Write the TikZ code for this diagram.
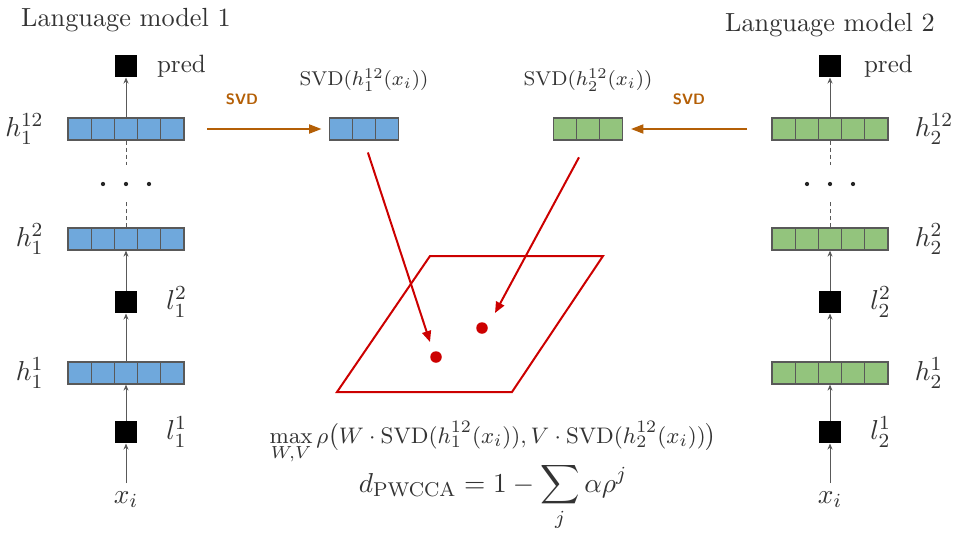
\documentclass[tikz,border=0pt]{standalone}
\usepackage{amsmath}
\usetikzlibrary{arrows.meta,calc,positioning}
\definecolor{lmblue}{HTML}{6FA8DC}
\definecolor{lmgreen}{HTML}{93C47D}
\definecolor{edge}{HTML}{595959}
\definecolor{svdorange}{HTML}{B45F06}
\definecolor{planered}{HTML}{CC0000}

\begin{document}
\begin{tikzpicture}[x=0.4pt,y=-0.4pt,
  every node/.style={text=black!80},
  cells/.style={draw=edge,line width=.5pt,inner sep=0pt,minimum height=8.8pt,
    minimum width=#1*9.28pt,path picture={
      \foreach \k in {1,...,#1}
        \draw[edge,line width=.5pt]
          ($(path picture bounding box.south west)!\k/#1!(path picture bounding box.south east)$) -- ++(0,10pt);
    }},
  sq/.style={fill=black,minimum size=8.8pt,inner sep=0pt},
  up/.style={edge,line width=.4pt,-{Stealth[length=2.4pt,width=2pt]}},
  fwd/.style={edge,line width=.4pt,dash pattern=on 1.6pt off 1.2pt},
  svd/.style={svdorange,line width=.8pt,-{Triangle[length=5pt,width=3.6pt]}},
  proj/.style={planered,line width=.8pt,-{Triangle[length=4.4pt,width=3.6pt]}},
  dot/.style={circle,fill=planered,minimum size=4.6pt,inner sep=0pt},
  title/.style={font=\fontsize{10.5}{12}\selectfont},
  lab/.style={font=\fontsize{11}{13}\selectfont},
  svdlab/.style={text=svdorange,font=\sffamily\bfseries\fontsize{6}{7}\selectfont}]
  \useasboundingbox (0,0) rectangle (960,540);
  % language model 1
  \begin{scope}
    \node[title] (t1) at (126,20) {Language model 1};
    \node[sq] (p1) at (126,66) {};
    \node[cells=5,fill=lmblue] (a12) at (126,129) {};
    \node[cells=5,fill=lmblue] (a2) at (126,239) {};
    \node[sq] (al2) at (126,302) {};
    \node[cells=5,fill=lmblue] (a1) at (126,373) {};
    \node[sq] (al1) at (126,432) {};
    \node[lab] (ax) at (126,500) {$x_i$};
    \node[right=4.3pt of p1] {pred};
    \node[lab,left=6pt of a12] {$h_1^{12}$};
    \node[lab,left=6pt of a2] {$h_1^{2}$};
    \node[lab,left=6pt of a1] {$h_1^{1}$};
    \node[lab,right=8pt of al2] {$l_1^{2}$};
    \node[lab,right=8pt of al1] {$l_1^{1}$};
    \coordinate (ad1) at (126,165);
    \coordinate (ad2) at (126,200);
    \draw[up] (ax) -- (al1);
    \draw[up] (al1) -- (a1);
    \draw[up] (a1) -- (al2);
    \draw[up] (al2) -- (a2);
    \draw[up] (a12) -- (p1);
    \draw[fwd] (a12.south) -- (ad1);
    \draw[fwd] (a2.north) -- (ad2);
    \foreach \dx in {-23,0,23}
      \fill[black!85] (126+\dx,184) circle (.85pt);
  \end{scope}
  % language model 2
  \begin{scope}
    \node[title] (t2) at (830,25) {Language model 2};
    \node[sq] (p2) at (830,66) {};
    \node[cells=5,fill=lmgreen] (b12) at (830,129) {};
    \node[cells=5,fill=lmgreen] (b2) at (830,239) {};
    \node[sq] (bl2) at (830,302) {};
    \node[cells=5,fill=lmgreen] (b1) at (830,373) {};
    \node[sq] (bl1) at (830,432) {};
    \node[lab] (bx) at (830,500) {$x_i$};
    \node[right=5.5pt of p2] {pred};
    \node[lab,right=7pt of b12] {$h_2^{12}$};
    \node[lab,right=7pt of b2] {$h_2^{2}$};
    \node[lab,right=7pt of b1] {$h_2^{1}$};
    \node[lab,right=8pt of bl2] {$l_2^{2}$};
    \node[lab,right=8pt of bl1] {$l_2^{1}$};
    \coordinate (bd1) at (830,165);
    \coordinate (bd2) at (830,200);
    \draw[up] (bx) -- (bl1);
    \draw[up] (bl1) -- (b1);
    \draw[up] (b1) -- (bl2);
    \draw[up] (bl2) -- (b2);
    \draw[up] (b12) -- (p2);
    \draw[fwd] (b12.south) -- (bd1);
    \draw[fwd] (b2.north) -- (bd2);
    \foreach \dx in {-23,0,23}
      \fill[black!85] (830+\dx,184) circle (.85pt);
  \end{scope}
  % reduced layers
  \node[cells=3,fill=lmblue] (s1) at (364,129) {};
  \node[cells=3,fill=lmgreen] (s2) at (588,129) {};
  \node[font=\footnotesize] at (364,80) {$\mathrm{SVD}(h_1^{12}(x_i))$};
  \node[font=\footnotesize] at (588,80) {$\mathrm{SVD}(h_2^{12}(x_i))$};
  \coordinate (o1) at (207,129);
  \coordinate (o2) at (747,129);
  \draw[svd,shorten >=2.8pt] (o1) -- (s1);
  \draw[svd,shorten >=3pt] (o2) -- (s2);
  \node[svdlab] at (242,99) {SVD};
  \node[svdlab] at (689,99) {SVD};
  % shared subspace
  \draw[planered,line width=.8pt] (430,256) -- (603,256) -- (512,392) -- (337,392) -- cycle;
  \node[dot] (q1) at (436,357) {};
  \node[dot] (q2) at (482,328) {};
  \coordinate (e1) at (430,342);
  \coordinate (e2) at (495,313);
  \draw[proj,shorten <=5pt] (s1.south) -- (e1);
  \draw[proj,shorten <=7.6pt] (s2.south) -- (e2);
  % objective
  \node[anchor=base,font=\fontsize{9.5}{11}\selectfont] at (493,443)
    {$\displaystyle\max_{W,V}\rho\big(W\cdot\mathrm{SVD}(h_1^{12}(x_i)),V\cdot\mathrm{SVD}(h_2^{12}(x_i))\big)$};
  \node[anchor=base,font=\fontsize{11}{13}\selectfont] at (493,492)
    {$\displaystyle d_{\mathrm{PWCCA}}=1-\sum_j\alpha\rho^j$};
\end{tikzpicture}
\end{document}
